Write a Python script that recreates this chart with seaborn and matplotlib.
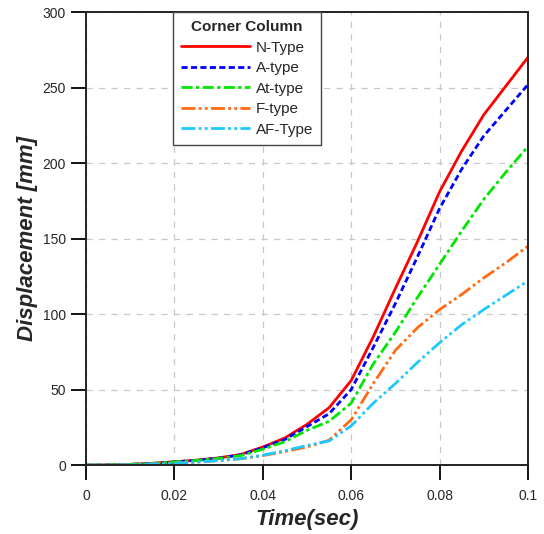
import numpy as np
import pandas as pd
import matplotlib
matplotlib.use("Agg")
import matplotlib.pyplot as plt
from matplotlib.ticker import MultipleLocator, FuncFormatter
import seaborn as sns

# time steps (sec)
time = [0.0, 0.005, 0.01, 0.015, 0.02, 0.025, 0.03, 0.035, 0.04, 0.045, 0.05,
        0.055, 0.06, 0.065, 0.07, 0.075, 0.08, 0.085, 0.09, 0.095, 0.1]

# displacement [mm] per column type
n_type = [0, 0.1, 0.5, 1.2, 2.2, 3.3, 4.8, 7.0, 12.0, 18.0, 27.0,
          38.0, 56.0, 85.0, 117.0, 148.0, 181.0, 208.0, 232.0, 251.0, 270.0]
a_type = [0, 0.1, 0.5, 1.1, 2.1, 3.2, 4.6, 6.8, 11.5, 17.0, 25.5,
          34.0, 50.0, 78.0, 107.0, 138.0, 170.0, 196.0, 218.0, 235.0, 252.0]
at_type = [0, 0.1, 0.5, 1.1, 2.1, 3.1, 4.4, 6.3, 10.5, 15.5, 23.0,
           29.0, 41.0, 67.0, 88.0, 111.0, 133.0, 155.0, 176.0, 194.0, 211.0]
f_type = [0, 0.1, 0.3, 0.7, 1.2, 2.0, 3.0, 4.2, 6.3, 9.0, 12.0,
          16.5, 30.0, 54.0, 76.0, 91.0, 103.0, 113.0, 124.0, 134.0, 145.0]
af_type = [0, 0.1, 0.3, 0.7, 1.3, 2.0, 3.0, 4.3, 6.6, 9.5, 13.0,
           16.0, 26.0, 41.0, 54.0, 68.0, 81.0, 93.0, 103.0, 112.5, 122.0]

labels = ["N-Type", "A-type", "At-type", "F-type", "AF-Type"]
series = [n_type, a_type, at_type, f_type, af_type]

df = pd.concat(
    [pd.DataFrame({"time": time, "disp": s, "type": lab}) for lab, s in zip(labels, series)],
    ignore_index=True,
)

palette = {"N-Type": "#ff0000", "A-type": "#0000ff", "At-type": "#00e600",
           "F-type": "#ff6a13", "AF-Type": "#1ec8ff"}
dashes = {"N-Type": "",
          "A-type": (2.2, 1.2),
          "At-type": (4, 1.2, 1.2, 1.2),
          "F-type": (5, 1.2, 1, 1.2, 1, 1.2),
          "AF-Type": (5, 1.2, 1, 1.2, 1, 1.2)}

sns.set_style("white")
plt.rcParams["font.family"] = ["Liberation Sans", "DejaVu Sans"]

fig = plt.figure(figsize=(5.44, 5.34), dpi=100)
ax = fig.add_axes([0.158, 0.129, 0.8126, 0.8485])

sns.lineplot(data=df, x="time", y="disp", hue="type", style="type",
             palette=palette, dashes=dashes, linewidth=2.0, ax=ax,
             hue_order=labels, style_order=labels)

ax.set_xlim(0, 0.1)
ax.set_ylim(0, 300)
ax.xaxis.set_major_locator(MultipleLocator(0.02))
ax.yaxis.set_major_locator(MultipleLocator(50))
ax.yaxis.set_minor_locator(MultipleLocator(25))
ax.xaxis.set_major_formatter(FuncFormatter(lambda v, p: "0" if v == 0 else f"{v:g}"))

ax.grid(True, which="major", linestyle=(0, (5, 5)), color="#c8c8c8", linewidth=0.9)
ax.tick_params(axis="both", which="major", direction="out", length=10.5, width=1.3,
               labelsize=10, color="black")
ax.tick_params(axis="x", which="major", pad=7)
ax.tick_params(axis="y", which="major", pad=4)
ax.tick_params(axis="y", which="minor", direction="out", length=5.5, width=1.3, color="black")
ax.tick_params(left=True, bottom=True)

for sp in ax.spines.values():
    sp.set_color("#222222")
    sp.set_linewidth(1.4)

ax.set_xlabel("Time(sec)", fontsize=16, fontweight="bold", fontstyle="italic", labelpad=4)
ax.set_ylabel("Displacement [mm]", fontsize=16, fontweight="bold", fontstyle="italic", labelpad=3)

leg = ax.legend(title="Corner Column", loc="upper left", bbox_to_anchor=(0.197, 1.0),
                borderaxespad=0, fontsize=11,
                title_fontproperties={"weight": "bold", "size": 11},
                frameon=True, fancybox=False, edgecolor="#444444", framealpha=1,
                handlelength=4.5, borderpad=0.55, labelspacing=0.42, handletextpad=0.35)
leg.get_frame().set_linewidth(1.0)

fig.savefig("out.png", dpi=100)
